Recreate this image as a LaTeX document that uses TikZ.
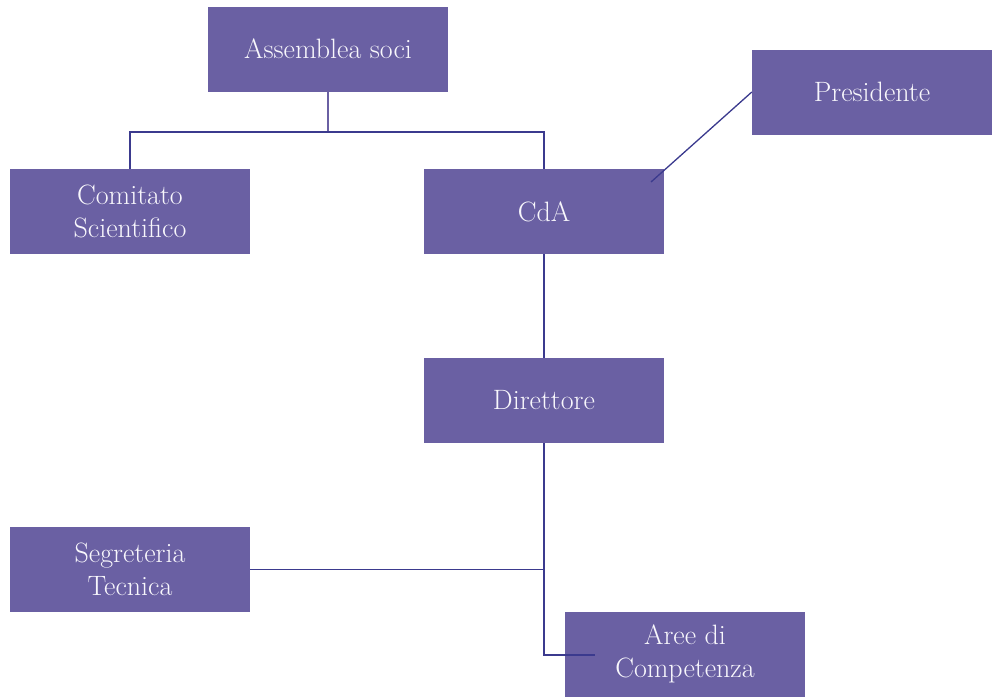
\documentclass[tikz,border=0pt]{standalone}
\usepackage{tikz}
\usetikzlibrary{calc, positioning}
\definecolor{boxfill}{HTML}{6A60A3}
\definecolor{linkcol}{HTML}{3B3A8E}
\definecolor{boxtext}{HTML}{F8F7FC}
\tikzset{
    box/.style={fill=boxfill, text=boxtext, minimum width=240pt, minimum height=85pt,
        inner sep=0pt, align=center, font=\fontsize{28}{33}\selectfont},
    link/.style={draw=linkcol, line width=1.3pt},
    stem/.style={draw=boxfill, line width=1.6pt}
}
\newcommand{\drawB}[4]{
    \node[box] (#3) at (#1,#2) {#4};
}
\begin{document}
\begin{tikzpicture}[x=1pt, y=-1pt]
        \useasboundingbox (0,0) rectangle (992,696);
        % Boxes
        \drawB{328}{49}{soci}{Assemblea soci}
        \drawB{872}{92}{pres}{Presidente}
        \drawB{130}{211.5}{comitato}{Comitato\\Scientifico}
        \drawB{544}{211.5}{cda}{CdA}
        \drawB{544}{400.5}{dir}{Direttore}
        \drawB{130}{569.5}{segr}{Segreteria\\Tecnica}
        \drawB{685}{654}{aree}{Aree di\\Competenza}
        % Helper points
        \coordinate (fork) at (328,132);
        \coordinate (cdatip) at (651,182);
        \coordinate (junction) at (544,569.5);
        \coordinate (areetip) at (595,655);
        % Connectors
        \draw[stem] (soci.south) -- (fork);
        \draw[link] (comitato.north) |- (fork) -| (cda.north);
        \draw[link] (pres.west) -- (cdatip);
        \draw[link] (cda.south) -- (dir.north);
        \draw[link] (segr.east) -- (junction);
        \draw[link] (dir.south) |- (areetip);
    \end{tikzpicture}
\end{document}
